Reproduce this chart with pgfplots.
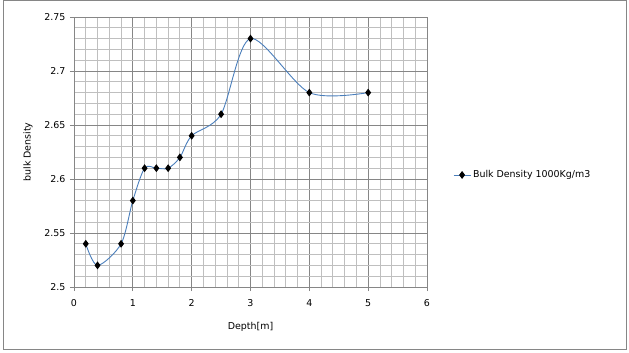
\documentclass[border=0pt]{standalone}
\usepackage{fontspec}
\setmainfont{DejaVu Sans}
\usepackage{pgfplots}
\pgfplotsset{compat=1.18}
\definecolor{lineblue}{HTML}{4A7EBB}
\definecolor{majgrid}{HTML}{868686}
\definecolor{mingrid}{HTML}{BFBFBF}
\begin{document}
\begin{tikzpicture}
\path[use as bounding box] (0bp,0bp) rectangle (629bp,353bp);
\draw[majgrid, line width=1bp] (3bp,3bp) rectangle (626bp,352bp);
\begin{axis}[
  at={(74bp,66bp)}, anchor=south west,
  scale only axis, width=353bp, height=270bp,
  xmin=0, xmax=6, ymin=2.5, ymax=2.75,
  xtick={0,1,2,3,4,5,6},
  ytick={2.5,2.55,2.6,2.65,2.7,2.75},
  yticklabels={2.5,2.55,2.6,2.65,2.7,2.75},
  minor x tick num=4, minor y tick num=4,
  grid=both,
  major grid style={majgrid, line width=0.8bp},
  minor grid style={mingrid, line width=0.8bp},
  axis line style={majgrid, line width=0.8bp},
  tick style={majgrid, line width=0.8bp},
  tick align=outside, major tick length=4bp, minor tick length=0pt,
  axis x line*=bottom, axis y line*=left,
  /pgf/number format/assume math mode=true,
  tick label style={font=\fontsize{9.5}{11}\selectfont, text=black},
  xticklabel style={yshift=-5bp},
  yticklabel style={xshift=-1bp},
  xlabel={Depth[m]}, ylabel={bulk Density},
  xlabel style={yshift=-9bp},
  ylabel style={yshift=5bp},
  label style={font=\fontsize{9.5}{11}\selectfont},
  legend style={at={(rel axis cs:1.065,0.415)}, anchor=west, draw=none, fill=none,
    font=\fontsize{9.5}{11}\selectfont},
  legend cell align=left,
  clip=false,
]
\addplot[lineblue, line width=0.9bp, smooth, tension=0.5,
  mark=diamond*, mark size=3.2bp, mark options={black, fill=black}]
  coordinates {
  (0.2,2.54) (0.4,2.52) (0.8,2.54) (1.0,2.58) (1.2,2.61) (1.4,2.61)
  (1.6,2.61) (1.8,2.62) (2.0,2.64) (2.5,2.66) (3.0,2.73) (4.0,2.68) (5.0,2.68)
  };
\addlegendentry{Bulk Density 1000Kg/m3}
\end{axis}
\end{tikzpicture}
\end{document}
